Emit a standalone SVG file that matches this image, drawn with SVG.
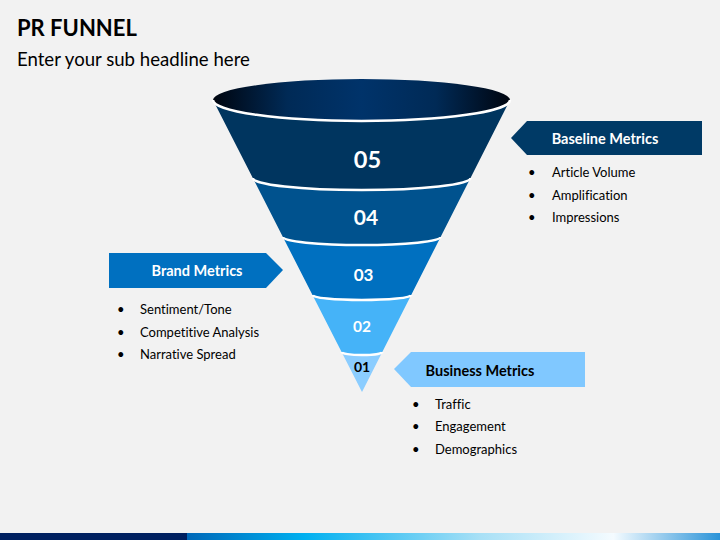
<svg xmlns="http://www.w3.org/2000/svg" width="720" height="540" viewBox="0 0 720 540">
<defs>
<style>
text{font-variant-ligatures:none;font-feature-settings:"liga" 0,"clig" 0,"dlig" 0}
.title{font-family:Lato,"Liberation Sans",sans-serif;font-weight:bold;font-size:22px;fill:#000}
.sub{font-family:Lato,"Liberation Sans",sans-serif;font-size:18.6px;fill:#000}
.num{font-family:Lato,"Liberation Sans",sans-serif;font-weight:bold;font-size:23px;fill:#fff;text-anchor:middle}
.lbl{font-family:Lato,"Liberation Sans",sans-serif;font-weight:bold;font-size:14.5px;text-anchor:middle}
.item{font-family:Lato,"Liberation Sans",sans-serif;font-size:13px;fill:#000}
.edge{fill:none;stroke:#fff;stroke-width:2.5}
</style>
<linearGradient id="rim" x1="0" y1="0" x2="1" y2="0">
<stop offset="0" stop-color="#00050f"/>
<stop offset="0.25" stop-color="#002a56"/>
<stop offset="0.5" stop-color="#00336a"/>
<stop offset="0.75" stop-color="#002a56"/>
<stop offset="1" stop-color="#00050f"/>
</linearGradient>
<linearGradient id="bar" x1="187" y1="0" x2="720" y2="0" gradientUnits="userSpaceOnUse">
<stop offset="0" stop-color="#0068b8"/>
<stop offset="0.22" stop-color="#00b0f0"/>
<stop offset="0.55" stop-color="#a8e0f6"/>
<stop offset="0.8" stop-color="#f4fbff"/>
<stop offset="1" stop-color="#2a93d8"/>
</linearGradient>
</defs>
<rect width="720" height="540" fill="#f2f2f2"/>
<text class="title" x="17" y="36">PR FUNNEL</text>
<text class="sub" x="17" y="66">Enter your sub headline here</text>

<g id="funnel">
<g id="band5">
<path d="M213,100 L252.8,178 A108.85 12 0 0 0 470.5,178 L510,100 A148.5 21 0 0 1 213,100 Z" fill="#00355f"/>
<text class="num" x="367.5" y="168" style="font-size:23.5px">05</text>
</g>
<g id="band4">
<path d="M252.8,178 L282.9,237 A78.85 8 0 0 0 440.6,237 L470.5,178 A108.85 12 0 0 1 252.8,178 Z" fill="#00528e"/>
<text class="num" x="366" y="225" style="font-size:21px">04</text>
</g>
<g id="band3">
<path d="M282.9,237 L312.5,295 A49.35 5 0 0 0 411.2,295 L440.6,237 A78.85 8 0 0 1 282.9,237 Z" fill="#0070c0"/>
<text class="num" x="363.5" y="281" style="font-size:17px">03</text>
</g>
<g id="band2">
<path d="M312.5,295 L341.6,352 A20.35 3 0 0 0 382.3,352 L411.2,295 A49.35 5 0 0 1 312.5,295 Z" fill="#45b3f8"/>
<text class="num" x="362" y="332" style="font-size:15.5px">02</text>
</g>
<g id="band1">
<path d="M341.6,352 L362,392 L382.3,352 A20.35 3 0 0 1 341.6,352 Z" fill="#8bcdff"/>
<text class="num" x="362" y="372" style="font-size:14px;fill:#000">01</text>
</g>
<g id="rim-top">
<ellipse cx="361.5" cy="100" rx="148.5" ry="21" fill="url(#rim)"/>
<path class="edge" d="M213,100 A148.5 21 0 0 0 510,100"/>
</g>
<path class="edge" d="M252.8,178 A108.85 12 0 0 0 470.5,178"/>
<path class="edge" d="M282.9,237 A78.85 8 0 0 0 440.6,237"/>
<path class="edge" d="M312.5,295 A49.35 5 0 0 0 411.2,295"/>
<path class="edge" d="M341.6,352 A20.35 3 0 0 0 382.3,352"/>
</g>

<g id="baseline">
<polygon points="511,138 527,121 702,121 702,155 527,155" fill="#003a66"/>
<text class="lbl" x="605" y="144" fill="#fff">Baseline Metrics</text>
<text class="item" x="528" y="177">•</text><text class="item" x="552" y="177">Article Volume</text>
<text class="item" x="528" y="199.5">•</text><text class="item" x="552" y="199.5">Amplification</text>
<text class="item" x="528" y="222">•</text><text class="item" x="552" y="222">Impressions</text>
</g>

<g id="brand">
<polygon points="109,253 266,253 283,270 266,288 109,288" fill="#0070c0"/>
<text class="lbl" x="197" y="276" fill="#fff">Brand Metrics</text>
<text class="item" x="117" y="314">•</text><text class="item" x="140" y="314">Sentiment/Tone</text>
<text class="item" x="117" y="336.5">•</text><text class="item" x="140" y="336.5">Competitive Analysis</text>
<text class="item" x="117" y="359">•</text><text class="item" x="140" y="359">Narrative Spread</text>
</g>

<g id="business">
<polygon points="394,369 411,352 585,352 585,387 411,387" fill="#80c8ff"/>
<text class="lbl" x="480" y="376" fill="#000">Business Metrics</text>
<text class="item" x="412" y="408.5">•</text><text class="item" x="435" y="408.5">Traffic</text>
<text class="item" x="412" y="431">•</text><text class="item" x="435" y="431">Engagement</text>
<text class="item" x="412" y="453.5">•</text><text class="item" x="435" y="453.5">Demographics</text>
</g>

<g id="connectors"></g>

<rect x="0" y="533" width="187" height="7" fill="#002060"/>
<rect x="187" y="533" width="533" height="7" fill="url(#bar)"/>
</svg>
